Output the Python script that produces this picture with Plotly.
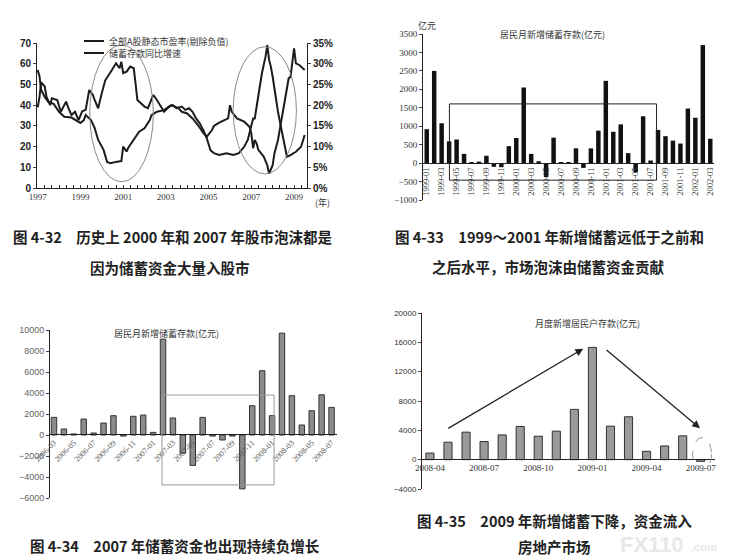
import plotly.graph_objects as go

# page body keeps its 8px margin, so the figure is 8px smaller than the window
PAD = 8
W, H = 735 - PAD, 560 - PAD

# ---------- 图4-32: 市盈率 vs 储蓄存款同比增速 ----------
pe_months = [
    "1997-01", "1997-02", "1997-03", "1997-05", "1997-06", "1997-08",
    "1997-09", "1997-10", "1997-12", "1998-02", "1998-05", "1998-06",
    "1998-08", "1998-10", "1998-12", "1999-02", "1999-04", "1999-06",
    "1999-08", "1999-09", "1999-11", "2000-01", "2000-03", "2000-06",
    "2000-09", "2000-11", "2000-12", "2001-01", "2001-03", "2001-05",
    "2001-07", "2001-08", "2001-09", "2001-11", "2002-01", "2002-03",
    "2002-04", "2002-06", "2002-08", "2002-10", "2002-12", "2003-03",
    "2003-05", "2003-07", "2003-10", "2003-12", "2004-02", "2004-04",
    "2004-06", "2004-08", "2004-10", "2004-12", "2005-02", "2005-04",
    "2005-07", "2005-11", "2006-03", "2006-06", "2006-09", "2006-11",
    "2007-01", "2007-02", "2007-03", "2007-04", "2007-05", "2007-07",
    "2007-09", "2007-10", "2007-11", "2007-12", "2008-01", "2008-02",
    "2008-04", "2008-06", "2008-08", "2008-09", "2008-11", "2009-02",
    "2009-05", "2009-07",
]
pe_ratio = [
    39, 44, 51, 49, 44, 40,
    43.3, 43, 42.5, 36.8, 41.7, 39.3,
    35.2, 36.8, 32.8, 37, 37.7, 47.3,
    45, 42.5, 38.5, 45.7, 52, 56,
    60.2, 57.8, 61, 55.5, 56.2, 58.6,
    57.8, 50.5, 42.5, 40.9, 39.3, 38.5,
    40.9, 44.9, 42.5, 39.3, 36.8, 39.3,
    40, 38.5, 39.3, 37.7, 38.5, 36.8,
    33.6, 31.2, 28, 24, 18.3, 16.8,
    16, 16.8, 16, 16.8, 19.9, 23.2,
    29.6, 33.6, 33.6, 39.3, 45.7, 55.4,
    63.4, 69, 61.8, 58.6, 53.7, 47.3,
    36.8, 28, 19.9, 15.1, 15.9, 17.5,
    19.9, 25.6,
]

dep_months = [
    "1997-01", "1997-02", "1997-03", "1997-05", "1997-07", "1997-10",
    "1998-01", "1998-04", "1998-08", "1998-10", "1999-01", "1999-03",
    "1999-04", "1999-07", "1999-09", "1999-11", "2000-02", "2000-04",
    "2000-06", "2000-09", "2000-12", "2001-01", "2001-03", "2001-04",
    "2001-07", "2001-10", "2002-01", "2002-04", "2002-05", "2002-08",
    "2002-12", "2003-04", "2003-08", "2003-10", "2004-01", "2004-04",
    "2004-07", "2004-10", "2004-12", "2005-03", "2005-04", "2005-07",
    "2005-12", "2006-01", "2006-02", "2006-05", "2006-09", "2006-12",
    "2007-01", "2007-02", "2007-03", "2007-04", "2007-05", "2007-08",
    "2007-10", "2007-11", "2008-01", "2008-02", "2008-04", "2008-06",
    "2008-08", "2008-10", "2008-11", "2009-01", "2009-02", "2009-04",
    "2009-07",
]
deposit_growth = [
    28.5, 26.9, 23.7, 22, 20.8, 20.3,
    18.4, 17.2, 17, 16.4, 15.7, 16.4,
    17.6, 16.4, 14.5, 11.6, 9.2, 6.3,
    6, 6.3, 6.5, 10, 8.8, 9.8,
    11.6, 13.6, 14.4, 16.4, 17.6, 18.4,
    18.8, 20, 19.3, 18.4, 18, 16.8,
    15.2, 13.3, 12.4, 14, 15, 15.8,
    16.8, 20, 18.4, 16.8, 16, 14.8,
    13.2, 9.6, 11.6, 10.8, 9.2, 7.6,
    5.5, 3.5, 5.5, 8.4, 11.6, 16.4,
    22, 26.5, 26.8, 33.7, 30.1, 29.7,
    28.5,
]
year_ticks = ["1997", "1999", "2001", "2003", "2005", "2007", "2009"]

# ---------- 图4-33: 居民月新增储蓄存款 1999-01 ~ 2002-03 ----------
months_433 = [
    "1999-01", "1999-02", "1999-03", "1999-04", "1999-05", "1999-06",
    "1999-07", "1999-08", "1999-09", "1999-10", "1999-11", "1999-12",
    "2000-01", "2000-02", "2000-03", "2000-04", "2000-05", "2000-06",
    "2000-07", "2000-08", "2000-09", "2000-10", "2000-11", "2000-12",
    "2001-01", "2001-02", "2001-03", "2001-04", "2001-05", "2001-06",
    "2001-07", "2001-08", "2001-09", "2001-10", "2001-11", "2001-12",
    "2002-01", "2002-02", "2002-03",
]
saving_433 = [
    920, 2500, 1080, 590, 640, 250, 20, 40, 200, -100, -110, 460,
    680, 2050, 250, 50, -380, 690, 10, 20, 400, -130, 400, 880,
    2230, 850, 1050, 270, -250, 1270, 70, 900, 730, 610, 530, 1480,
    1230, 3200, 660,
]

# ---------- 图4-34: 居民月新增储蓄存款 2006-03 ~ 2008-07 ----------
months_434 = [
    "2006-03", "2006-04", "2006-05", "2006-06", "2006-07", "2006-08",
    "2006-09", "2006-10", "2006-11", "2006-12", "2007-01", "2007-02",
    "2007-03", "2007-04", "2007-05", "2007-06", "2007-07", "2007-08",
    "2007-09", "2007-10", "2007-11", "2007-12", "2008-01", "2008-02",
    "2008-03", "2008-04", "2008-05", "2008-06", "2008-07",
]
saving_434 = [
    1680, 570, 100, 1520, 190, 1140, 1840, -100, 1780, 1900, 250, 9130,
    1620, -1740, -2900, 1680, -100, -475, -100, -5130, 2790, 6120, 1840,
    9700, 3740, 950, 2310, 3830, 2630,
]

# ---------- 图4-35: 月度新增居民户存款 2008-04 ~ 2009-07 ----------
months_435 = [
    "2008-04", "2008-05", "2008-06", "2008-07", "2008-08", "2008-09",
    "2008-10", "2008-11", "2008-12", "2009-01", "2009-02", "2009-03",
    "2009-04", "2009-05", "2009-06", "2009-07",
]
saving_435 = [
    900, 2380, 3750, 2470, 3380, 4530, 3200, 3890, 6860, 15310, 4570,
    5850, 1140, 1870, 3250, -230,
]


# window pixel -> paper coordinate
def px(x):
    return (x - PAD) / W


def py(y):
    return 1 - (y - PAD) / H


def dx(a, b):
    return [px(a), px(b)]


def dy(top, bottom):
    return [py(bottom), py(top)]


SERIF = "Liberation Serif"
SANS = "Liberation Sans"
CJK = "Noto Sans CJK SC"
LINE_C = "#1c1c1c"

fig = go.Figure()

fig.add_trace(go.Scatter(
    x=pe_months, y=pe_ratio, name="全部A股静态市盈率(剔除负值)",
    mode="lines", line=dict(color=LINE_C, width=2),
    xaxis="x", yaxis="y", showlegend=False,
))
fig.add_trace(go.Scatter(
    x=dep_months, y=deposit_growth, name="储蓄存款同比增速",
    mode="lines", line=dict(color=LINE_C, width=2),
    xaxis="x", yaxis="y2", showlegend=False,
))
fig.add_trace(go.Bar(
    x=months_433, y=saving_433, width=0.6, showlegend=False,
    marker=dict(color="#111111", line=dict(width=0)),
    xaxis="x2", yaxis="y3",
))
fig.add_trace(go.Bar(
    x=months_434, y=saving_434, width=0.55, showlegend=False,
    marker=dict(color="#8c8c8c", line=dict(color="#333333", width=1)),
    xaxis="x3", yaxis="y4",
))
fig.add_trace(go.Bar(
    x=months_435, y=saving_435, width=0.45, showlegend=False,
    marker=dict(color="#9a9a9a", line=dict(color="#333333", width=1)),
    xaxis="x4", yaxis="y5",
))

axis_common = dict(showline=True, linecolor="#222222", linewidth=1,
                   showgrid=False, zeroline=False, automargin=False)

fig.update_layout(
    width=W, height=H,
    margin=dict(l=0, r=0, t=0, b=0),
    paper_bgcolor="white", plot_bgcolor="white",
    showlegend=False,
    # 图4-32
    xaxis=dict(
        **axis_common, domain=dx(37, 307), anchor="y", type="date",
        range=["1996-12-20", "2009-08-10"],
        tickmode="array", tickvals=[y + "-01-01" for y in year_ticks],
        ticktext=year_ticks, ticks="inside", ticklen=3,
        minor=dict(ticks="inside", ticklen=3, dtick="M4", tick0="1997-01-01",
                   tickcolor="#222222"),
        tickfont=dict(family=SERIF, size=9, color="#333333"),
    ),
    yaxis=dict(
        **axis_common, domain=dy(43, 188), anchor="x", range=[0, 70],
        dtick=10, ticks="outside", ticklen=3,
        tickfont=dict(family=SANS, size=10, color="#222222", weight="bold"),
    ),
    yaxis2=dict(
        **axis_common, overlaying="y", side="right", anchor="x",
        range=[0, 35], dtick=5, ticksuffix="%", ticks="outside", ticklen=3,
        tickfont=dict(family=SANS, size=10, color="#222222", weight="bold"),
    ),
    # 图4-33
    xaxis2=dict(
        **axis_common, domain=dx(423, 714), anchor="free",
        position=py(163), type="category", range=[-0.5, 38.5],
        tickmode="array", tickvals=months_433[::2], tickangle=-90,
        tickfont=dict(family=SERIF, size=8.5, color="#333333"),
    ),
    yaxis3=dict(
        **axis_common, domain=dy(34, 200), anchor="x2",
        range=[-1000, 3500], dtick=500, ticks="outside", ticklen=3,
        tickformat="d",
        tickfont=dict(family=SERIF, size=9, color="#333333"),
    ),
    # 图4-34
    xaxis3=dict(
        **axis_common, domain=dx(50, 337), anchor="free",
        position=py(434), type="category", range=[-0.4, 28.55],
        tickmode="array", tickvals=months_434[::2], tickangle=-45,
        tickfont=dict(family=SERIF, size=8, color="#555555"),
    ),
    yaxis4=dict(
        **axis_common, domain=dy(330, 498), anchor="x3",
        range=[-6000, 10000], dtick=2000, ticks="outside", ticklen=3,
        tickformat="d",
        tickfont=dict(family=SANS, size=9, color="#666666"),
    ),
    # 图4-35
    xaxis4=dict(
        **axis_common, domain=dx(422, 715), anchor="free",
        position=py(459), type="category", range=[-0.44, 15.79],
        tickmode="array", tickvals=months_435[::3], tickangle=0,
        tickfont=dict(family=SERIF, size=9, color="#333333"),
    ),
    yaxis5=dict(
        **axis_common, domain=dy(313, 489), anchor="x4",
        range=[-4000, 20000], dtick=4000, ticks="outside", ticklen=3,
        tickformat="d",
        tickfont=dict(family=SANS, size=8, color="#333333"),
    ),
)

shapes = [
    # 图4-32 图例线段
    dict(type="line", xref="paper", yref="paper", x0=px(84), x1=px(104),
         y0=py(41), y1=py(41), line=dict(color=LINE_C, width=2)),
    dict(type="line", xref="paper", yref="paper", x0=px(84), x1=px(104),
         y0=py(53), y1=py(53), line=dict(color=LINE_C, width=2)),
    # 图4-32 两个椭圆
    dict(type="circle", xref="x", yref="y", x0="1999-06-10", x1="2002-06-01",
         y0=3, y1=69, line=dict(color="#8a8a8a", width=1)),
    dict(type="circle", xref="x", yref="y", x0="2006-02-25", x1="2009-02-10",
         y0=6.8, y1=68.2, line=dict(color="#8a8a8a", width=1)),
    # 图4-33 方框
    dict(type="rect", xref="x2", yref="y3", x0=3.04, x1=30.8, y0=-462, y1=1605,
         line=dict(color="#222222", width=1)),
    # 图4-34 方框
    dict(type="rect", xref="x3", yref="y4", x0=10.9, x1=22.2, y0=-4755, y1=3804,
         line=dict(color="#999999", width=1)),
    # 图4-35 虚线椭圆
    dict(type="circle", xref="x4", yref="y5", x0=14.55, x1=15.6, y0=-1508,
         y1=3016, line=dict(color="#999999", width=1, dash="dash")),
]
fig.update_layout(shapes=shapes)


def text(x, y, s, size=9, family=CJK, color="#222222", xanchor="center"):
    return dict(x=px(x), y=py(y), xref="paper", yref="paper", text=s,
                showarrow=False, xanchor=xanchor, yanchor="middle",
                font=dict(family=family, size=size, color=color))


CAP = 14.5
annotations = [
    # 水印
    text(652, 544, "<b>FX110</b>", size=22, family=SANS, color="#e8e8e8"),
    text(689, 547, "<b>.com</b>", size=11, family=SANS, color="#e8e8e8",
         xanchor="left"),
    # 图例
    text(107, 41, "全部A股静态市盈率(剔除负值)", size=9, color="#333333",
         xanchor="left"),
    text(107, 53, "储蓄存款同比增速", size=9, color="#333333", xanchor="left"),
    text(322, 202, "(年)", size=9, color="#333333"),
    text(427, 25, "亿元", size=9, color="#333333"),
    text(552, 35, "居民月新增储蓄存款(亿元)", size=9, color="#333333"),
    text(166, 333, "居民月新增储蓄存款(亿元)", size=9, color="#333333"),
    text(587, 323, "月度新增居民户存款(亿元)", size=9, color="#333333"),
    # 图注
    text(172, 237, "<b>图 4-32　历史上 2000 年和 2007 年股市泡沫都是</b>", size=CAP),
    text(170, 267, "<b>因为储蓄资金大量入股市</b>", size=CAP),
    text(549, 237, "<b>图 4-33　1999～2001 年新增储蓄远低于之前和</b>", size=CAP),
    text(548, 266, "<b>之后水平，市场泡沫由储蓄资金贡献</b>", size=CAP),
    text(175, 545, "<b>图 4-34　2007 年储蓄资金也出现持续负增长</b>", size=CAP),
    text(554, 520, "<b>图 4-35　2009 年新增储蓄下降，资金流入</b>", size=CAP),
    text(554, 546, "<b>房地产市场</b>", size=CAP),
    # 图4-35 箭头
    dict(xref="x4", yref="y5", axref="x4", ayref="y5", x=8.49, y=15122,
         ax=0.93, ay=4154, text="", showarrow=True, arrowhead=2,
         arrowsize=1.2, arrowwidth=1.3, arrowcolor="#222222"),
    dict(xref="x4", yref="y5", axref="x4", ayref="y5", x=14.96, y=4291,
         ax=9.7, ay=15122, text="", showarrow=True, arrowhead=2,
         arrowsize=1.2, arrowwidth=1.3, arrowcolor="#222222"),
]
fig.update_layout(annotations=annotations)

fig.write_html("out.html")
